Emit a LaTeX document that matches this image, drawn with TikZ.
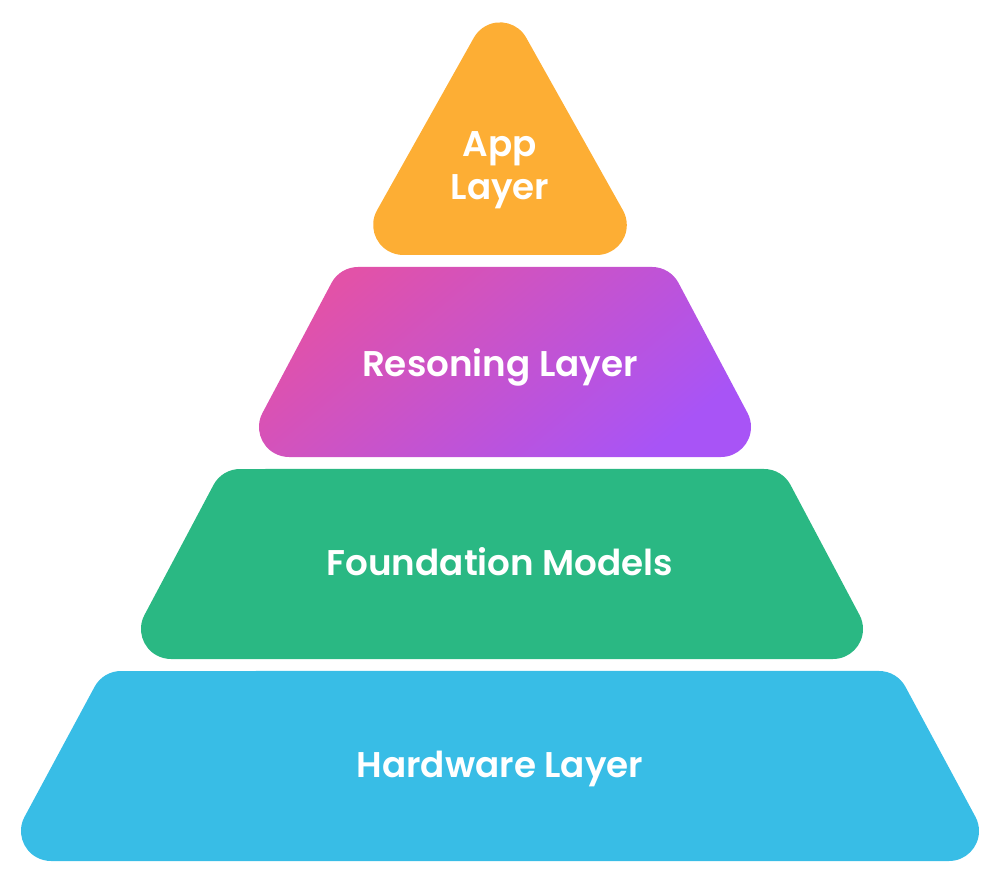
\documentclass[tikz,border=0pt]{standalone}
\usepackage{xcolor}
\usepackage{fontspec}
\newfontfamily\layerfont{Poppins SemiBold}

\definecolor{appOrange}{RGB}{253,174,52}
\definecolor{resPink}{RGB}{226,82,168}
\definecolor{resPurple}{RGB}{168,84,246}
\definecolor{fmGreen}{RGB}{42,184,131}
\definecolor{hwBlue}{RGB}{56,189,230}

\tikzset{
  layer text/.style={text=white, anchor=base, align=center,
    font=\layerfont\fontsize{26.8}{32.5}\selectfont},
}

\begin{document}
\begin{tikzpicture}[x=0.75pt,y=0.75pt,yscale=-1,xscale=1]
\useasboundingbox (0,0) rectangle (1000,884);

%Shape: Triangle (app)
\fill [appOrange] (403.2,255) -- (596.8,255) arc[start angle=90,end angle=-29.27,radius=30] -- (526.2,37.7) arc[start angle=-29.27,end angle=-150.73,radius=30] -- (377,210.3) arc[start angle=209.27,end angle=90,radius=30] -- cycle ;
%Shape: Trapezoid (reasoning)
\shade [left color=resPink, right color=resPurple, shading angle=40] (289,457) -- (721,457) arc[start angle=90,end angle=-28,radius=30] -- (678.5,282.9) arc[start angle=-28,end angle=-90,radius=30] -- (358,267) arc[start angle=-90,end angle=-152,radius=30] -- (262.5,412.9) arc[start angle=208,end angle=90,radius=30] -- cycle ;
%Shape: Trapezoid (foundation)
\fill [fmGreen] (171,659) -- (833,659) arc[start angle=90,end angle=-28,radius=30] -- (790.5,484.9) arc[start angle=-28,end angle=-90,radius=30] -- (240,469) arc[start angle=-90,end angle=-152,radius=30] -- (144.5,614.9) arc[start angle=208,end angle=90,radius=30] -- cycle ;
%Shape: Trapezoid (hardware)
\fill [hwBlue] (51,861) -- (949,861) arc[start angle=90,end angle=-28,radius=30] -- (905.5,686.9) arc[start angle=-28,end angle=-90,radius=30] -- (121,671) arc[start angle=-90,end angle=-152,radius=30] -- (24.5,816.9) arc[start angle=208,end angle=90,radius=30] -- cycle ;

% Text Node
\node [layer text] (app) at (500,200) {App\\Layer};
% Text Node
\node [layer text] (reasoning) at (500,377) {Resoning Layer};
% Text Node
\node [layer text] (foundation) at (500,575) {Foundation Models};
% Text Node
\node [layer text] (hardware) at (500,777) {Hardware Layer};

\end{tikzpicture}
\end{document}
